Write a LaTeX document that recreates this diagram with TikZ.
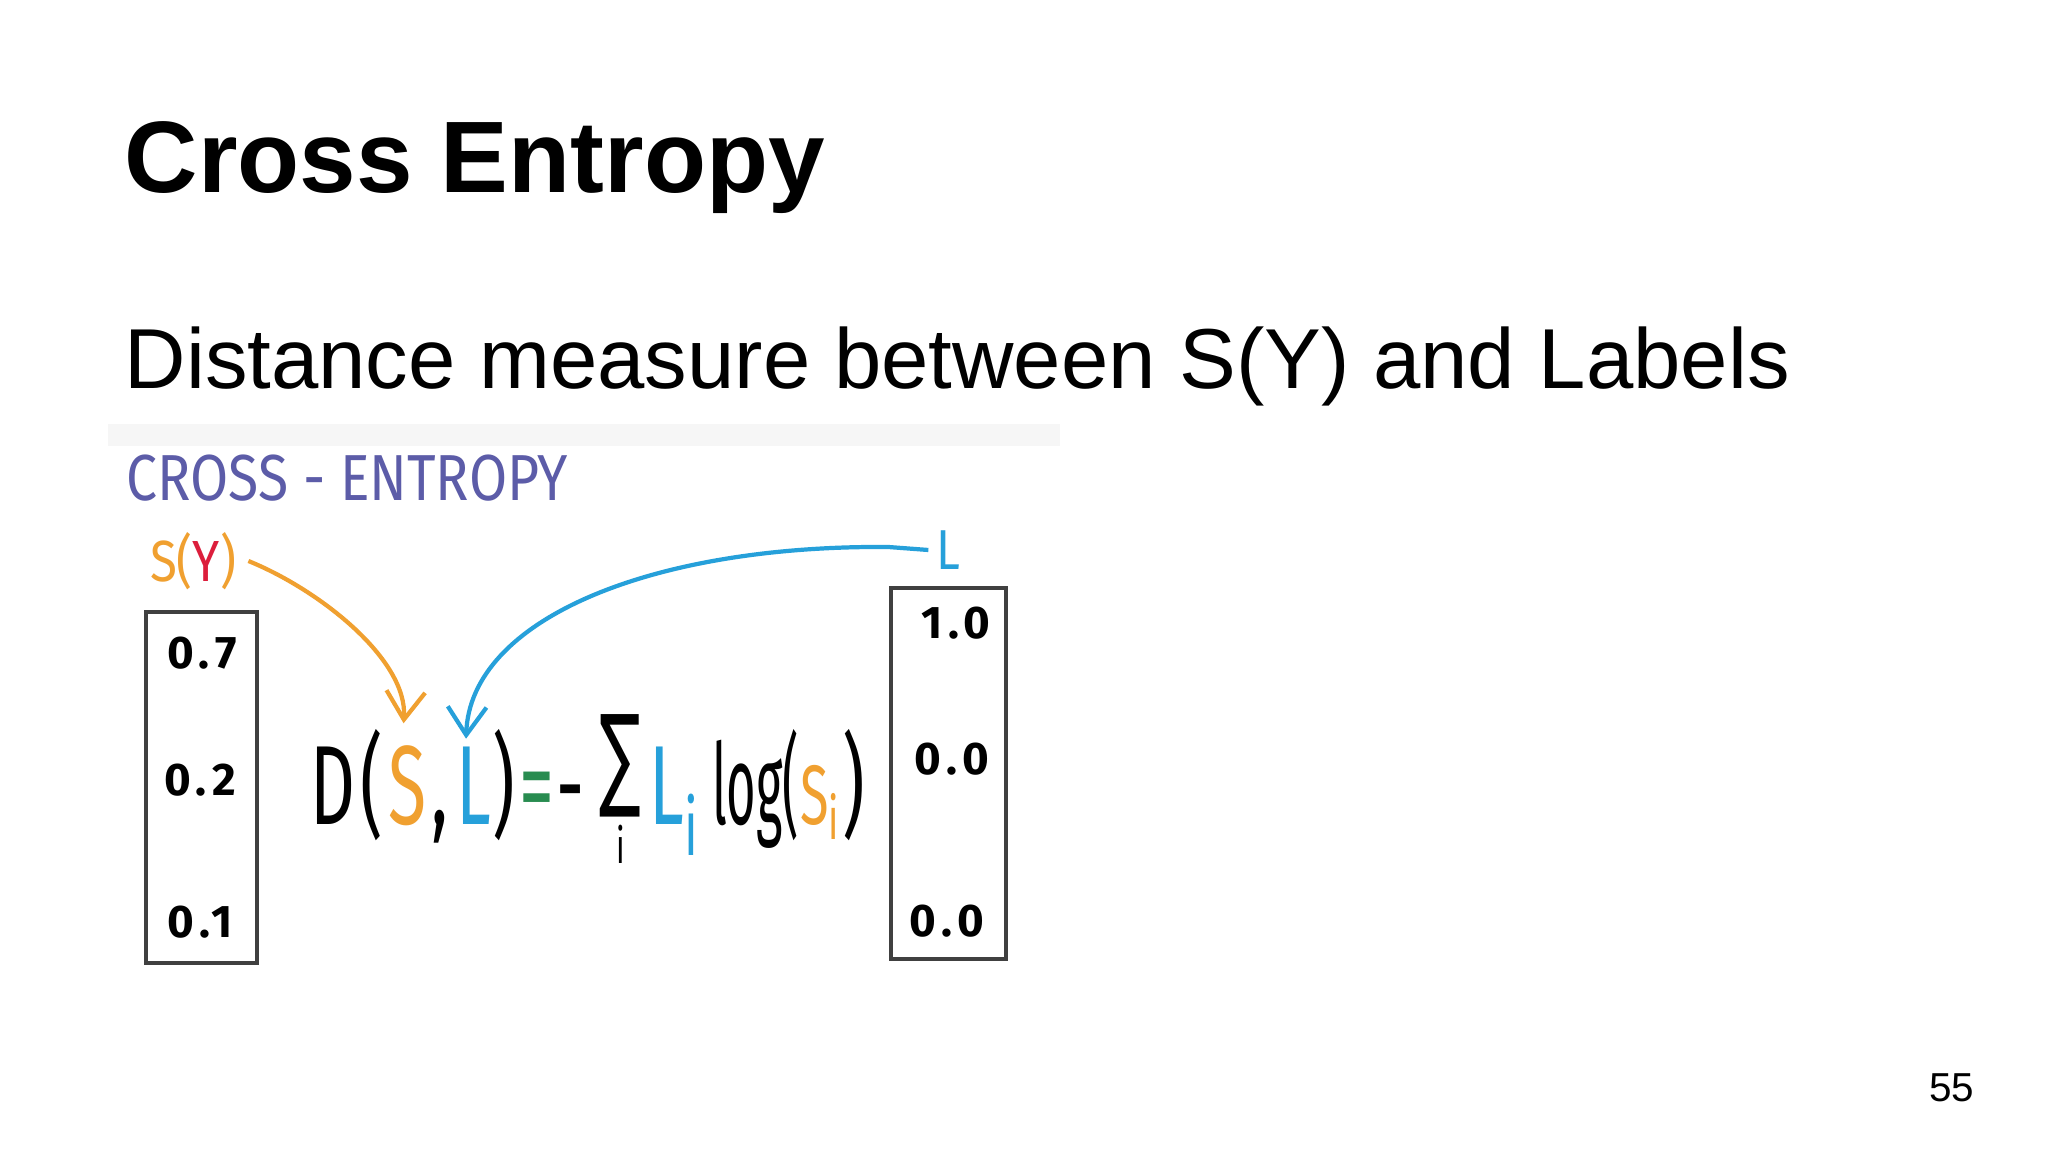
\documentclass[tikz,border=0pt]{standalone}
\usepackage{fontspec}
\setmainfont{Liberation Sans}
\newfontfamily\handfont[FakeStretch=0.85]{Fira Sans}
\newfontfamily\numfont[LetterSpace=12]{Fira Sans}
\newfontfamily\formfont[FakeStretch=0.62]{Fira Sans}
\newfontfamily\logfont[FakeStretch=0.45]{Fira Sans}
\newfontfamily\sumfont[FakeStretch=0.55]{DejaVu Sans}
\usepackage{xcolor}
\usetikzlibrary{arrows.meta}
\usetikzlibrary{positioning}

\definecolor{handpurple}{RGB}{92,92,168}
\definecolor{handorange}{RGB}{240,160,48}
\definecolor{handblue}{RGB}{38,160,218}
\definecolor{handred}{RGB}{220,30,60}
\definecolor{handgreen}{RGB}{40,140,80}
\definecolor{boxgray}{RGB}{64,64,64}
\definecolor{bandgray}{RGB}{246,246,246}

\tikzset{
  num/.style={font=\numfont\bfseries\fontsize{13pt}{13pt}\selectfont},
  piece/.style={inner sep=0pt, font=\formfont\fontsize{32pt}{32pt}\selectfont},
  vecbox/.style={draw=boxgray, line width=1.3pt},
  handarrow/.style={line width=1.2pt, -{Straight Barb[length=8pt,width=11pt]}},
}

\begin{document}
\begin{tikzpicture}[x=0.01cm, y=-0.01cm]

  \useasboundingbox (0,0) rectangle (2048,1152);
  \fill[white] (0,0) rectangle (2048,1152);
  \fill[bandgray] (108,424) rectangle (1060,446);

  % slide text
  \node[anchor=base west, inner sep=0pt, font=\bfseries\fontsize{28.9pt}{30pt}\selectfont] (title) at (124,193) {Cross Entropy};
  \node[anchor=base west, inner sep=0pt, font=\fontsize{24.2pt}{26pt}\selectfont] (subtitle) at (124,389) {Distance measure between S(Y) and Labels};
  \node[anchor=base east, inner sep=0pt, font=\fontsize{11.5pt}{12pt}\selectfont] (pagenum) at (1975,1101) {55};

  % handwritten part
  \node[anchor=west, inner sep=0pt, text=handpurple, font=\handfont\fontsize{18.5pt}{19pt}\selectfont] (heading) at (126,478) {CROSS - ENTROPY};
  \node[font=\handfont\fontsize{16.5pt}{17pt}\selectfont] (sy) at (193,561) {\textcolor{handorange}{S(}\textcolor{handred}{Y}\textcolor{handorange}{)}};
  \node[inner sep=2pt, text=handblue, font=\handfont\fontsize{16pt}{17pt}\selectfont] (lab) at (948,550) {L};

  % probability and label vectors
  \draw[vecbox] (146,612) rectangle (257,963);
  \draw[vecbox] (891,588) rectangle (1006,959);
  \node[num] (s1) at (202,653) {0.7};
  \node[num] (s2) at (200,780) {0.2};
  \node[num] (s3) at (200,922) {0.1};
  \node[num] (l1) at (956,623) {1.0};
  \node[num] (l2) at (952,759) {0.0};
  \node[num] (l3) at (947,921) {0.0};

  % formula
  \node[piece, anchor=base west] (fD) at (310,824) {D};
  \node[piece, base right=1pt of fD] (fOpen) {(};
  \node[piece, base right=1pt of fOpen, text=handorange] (fS) {S};
  \node[piece, base right=1pt of fS] (fComma) {,};
  \node[piece, base right=2pt of fComma, text=handblue] (fL) {L};
  \node[piece, base right=0pt of fL] (fClose) {)};
  \node[piece, base right=1pt of fClose, text=handgreen] (fEq) {=};
  \node[piece, base right=0pt of fEq] (fMinus) {-};
  \node[piece, base right=4pt of fMinus, yshift=8pt, font=\sumfont\fontsize{32pt}{32pt}\selectfont] (fSum) {∑};
  \node[piece, anchor=north, font=\formfont\fontsize{14pt}{14pt}\selectfont] (fIdx) at ([yshift=-8pt]fSum.base) {i};
  \node[piece, base right=2pt of fSum, yshift=-8pt, text=handblue] (fLi) {L\textsubscript{i}};
  \node[piece, base right=3pt of fLi, font=\logfont\fontsize{32pt}{32pt}\selectfont] (fLog) {log(};
  \node[piece, base right=0pt of fLog, text=handorange, font=\formfont\fontsize{24pt}{24pt}\selectfont] (fSi) {S\textsubscript{i}};
  \node[piece, base right=0pt of fSi] (fClose2) {)};

  \draw[handarrow, handorange] (sy.east) .. controls (320,590) and (408,660) .. ([xshift=-1pt,yshift=6pt]fS.north);
  \draw[handarrow, handblue] (lab.west) -- ++(-40,-3) .. controls (650,545) and (470,620) .. ([xshift=3pt,yshift=2pt]fL.north west);

\end{tikzpicture}
\end{document}
